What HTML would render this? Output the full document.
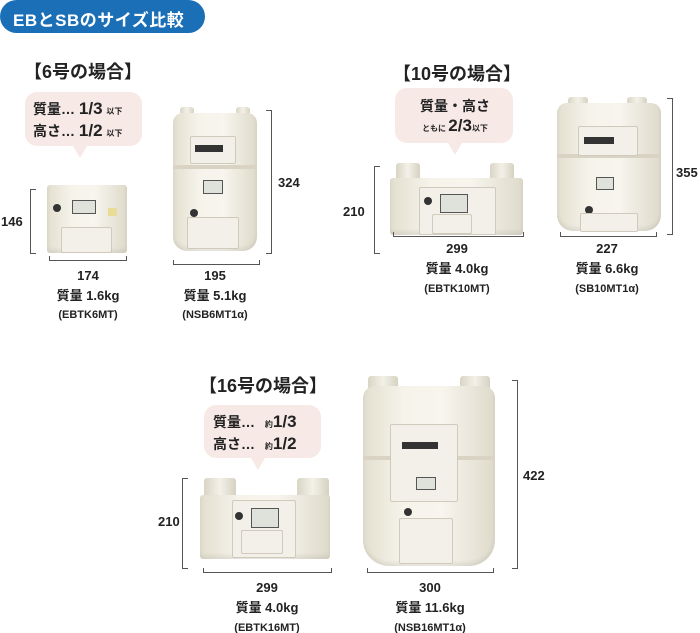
<!DOCTYPE html>
<html><head><meta charset="utf-8"><style>
body{margin:0;background:#fff}
#c{position:relative;width:700px;height:633px;overflow:hidden;font-family:"Liberation Sans","Noto Sans CJK JP",sans-serif;color:#222}
.a{position:absolute}
.t{position:absolute;white-space:nowrap;font-weight:bold}
.ctr{transform:translateX(-50%);text-align:center}
.bub{position:absolute;background:#f7e9e6;border-radius:12px}
.tail{position:absolute;width:0;height:0;border-left:7px solid transparent;border-right:7px solid transparent;border-top:12px solid #f7e9e6}
.vb{position:absolute;border:1.5px solid #555;width:5px}
.vl{border-right:none}.vr{border-left:none}
.hb{position:absolute;border:1.5px solid #555;border-top:none;height:4px}
.m{position:absolute;background:linear-gradient(90deg,#e3dfcf,#f5f3ea 30%,#f7f5ed 60%,#dedacb);border-radius:6px;box-shadow:inset 0 -3px 4px rgba(0,0,0,.08)}
.p{position:absolute;background:#f2f0e8;border:1px solid #cfcabb;border-radius:2px}
.d{position:absolute;background:#dfe2da;border:1.5px solid #555}
.k{position:absolute;background:#333;border-radius:50%}
.pipe{position:absolute;background:linear-gradient(90deg,#d9d5c5,#f3f1e8,#d6d2c2);border-radius:3px}
.n{font-size:13px}
.s{font-size:11px}
</style></head><body><div id="c">
<div class="a" style="left:0;top:0;width:205px;height:33px;background:#1b6fb7;border-radius:17px"></div>
<div class="t" style="left:13px;top:6px;font-size:17px;color:#fff;letter-spacing:0.5px">EBとSBのサイズ比較</div>

<!-- 6号 -->
<div class="t" style="left:24px;top:58px;font-size:18px">【6号の場合】</div>
<div class="bub" style="left:25px;top:92px;width:117px;height:54px"></div>
<div class="tail" style="left:73px;top:146px"></div>
<div class="t" style="left:33px;top:99px;font-size:14px">質量… <span style="font-size:17px">1/3</span> <span style="font-size:8px">以下</span></div>
<div class="t" style="left:33px;top:121px;font-size:14px">高さ… <span style="font-size:17px">1/2</span> <span style="font-size:8px">以下</span></div>

<div class="m" style="left:47px;top:185px;width:80px;height:68px;border-radius:3px"></div>
<div class="p" style="left:61px;top:227px;width:49px;height:24px"></div>
<div class="d" style="left:72px;top:200px;width:22px;height:12px"></div>
<div class="k" style="left:53px;top:204px;width:8px;height:8px"></div>
<div class="a" style="left:108px;top:208px;width:9px;height:8px;background:#e9dc98"></div>
<div class="vb vl" style="left:30px;top:189px;height:63px"></div>
<div class="t n" style="left:1px;top:214px">146</div>
<div class="hb" style="left:49px;top:256px;width:76px"></div>
<div class="t n ctr" style="left:88px;top:268px">174</div>
<div class="t n ctr" style="left:88px;top:285px">質量 1.6kg</div>
<div class="t s ctr" style="left:88px;top:309px">(EBTK6MT)</div>

<div class="pipe" style="left:180px;top:107px;width:14px;height:8px"></div>
<div class="pipe" style="left:236px;top:107px;width:14px;height:8px"></div>
<div class="m" style="left:173px;top:113px;width:84px;height:138px;border-radius:10px 10px 14px 14px"></div>
<div class="a" style="left:173px;top:165px;width:84px;height:4px;background:#d8d3c2"></div>
<div class="p" style="left:190px;top:136px;width:44px;height:26px"></div>
<div class="a" style="left:195px;top:145px;width:28px;height:7px;background:#333"></div>
<div class="d" style="left:203px;top:180px;width:18px;height:12px"></div>
<div class="k" style="left:190px;top:209px;width:8px;height:8px"></div>
<div class="p" style="left:187px;top:217px;width:50px;height:30px"></div>
<div class="vb vr" style="left:266px;top:110px;height:142px"></div>
<div class="t n" style="left:278px;top:175px">324</div>
<div class="hb" style="left:173px;top:260px;width:85px"></div>
<div class="t n ctr" style="left:215px;top:268px">195</div>
<div class="t n ctr" style="left:215px;top:285px">質量 5.1kg</div>
<div class="t s ctr" style="left:215px;top:309px">(NSB6MT1α)</div>

<!-- 10号 -->
<div class="t" style="left:393px;top:60px;font-size:18px">【10号の場合】</div>
<div class="bub" style="left:395px;top:88px;width:118px;height:55px"></div>
<div class="tail" style="left:448px;top:143px"></div>
<div class="t ctr" style="left:455px;top:96px;font-size:14px">質量・高さ</div>
<div class="t ctr" style="left:455px;top:116px;font-size:8px">ともに <span style="font-size:17px">2/3</span>以下</div>

<div class="pipe" style="left:396px;top:163px;width:24px;height:18px"></div>
<div class="pipe" style="left:490px;top:163px;width:24px;height:18px"></div>
<div class="m" style="left:390px;top:178px;width:133px;height:57px;border-radius:3px"></div>
<div class="p" style="left:419px;top:187px;width:75px;height:46px"></div>
<div class="d" style="left:440px;top:194px;width:26px;height:17px"></div>
<div class="k" style="left:424px;top:197px;width:8px;height:8px"></div>
<div class="p" style="left:432px;top:214px;width:38px;height:18px"></div>
<div class="vb vl" style="left:374px;top:166px;height:86px"></div>
<div class="t n" style="left:343px;top:204px">210</div>
<div class="hb" style="left:393px;top:232px;width:129px"></div>
<div class="t n ctr" style="left:457px;top:241px">299</div>
<div class="t n ctr" style="left:457px;top:258px">質量 4.0kg</div>
<div class="t s ctr" style="left:457px;top:283px">(EBTK10MT)</div>

<div class="pipe" style="left:568px;top:97px;width:20px;height:8px"></div>
<div class="pipe" style="left:627px;top:97px;width:20px;height:8px"></div>
<div class="m" style="left:557px;top:103px;width:104px;height:128px;border-radius:10px 10px 16px 16px"></div>
<div class="a" style="left:557px;top:154px;width:104px;height:4px;background:#d8d3c2"></div>
<div class="p" style="left:578px;top:126px;width:58px;height:28px"></div>
<div class="a" style="left:584px;top:137px;width:30px;height:7px;background:#333"></div>
<div class="d" style="left:596px;top:177px;width:16px;height:11px"></div>
<div class="k" style="left:585px;top:206px;width:8px;height:8px"></div>
<div class="p" style="left:580px;top:213px;width:56px;height:17px"></div>
<div class="vb vr" style="left:667px;top:98px;height:135px"></div>
<div class="t n" style="left:676px;top:165px">355</div>
<div class="hb" style="left:560px;top:232px;width:95px"></div>
<div class="t n ctr" style="left:607px;top:241px">227</div>
<div class="t n ctr" style="left:607px;top:258px">質量 6.6kg</div>
<div class="t s ctr" style="left:607px;top:283px">(SB10MT1α)</div>

<!-- 16号 -->
<div class="t" style="left:199px;top:372px;font-size:18px">【16号の場合】</div>
<div class="bub" style="left:204px;top:405px;width:117px;height:53px"></div>
<div class="tail" style="left:251px;top:458px"></div>
<div class="t" style="left:213px;top:412px;font-size:14px">質量… <span style="font-size:8px;margin-left:6px">約</span><span style="font-size:17px">1/3</span></div>
<div class="t" style="left:213px;top:434px;font-size:14px">高さ… <span style="font-size:8px;margin-left:6px">約</span><span style="font-size:17px">1/2</span></div>

<div class="pipe" style="left:204px;top:478px;width:32px;height:22px"></div>
<div class="pipe" style="left:297px;top:478px;width:32px;height:22px"></div>
<div class="m" style="left:200px;top:495px;width:130px;height:64px;border-radius:3px"></div>
<div class="p" style="left:232px;top:500px;width:62px;height:56px"></div>
<div class="d" style="left:251px;top:508px;width:26px;height:18px"></div>
<div class="k" style="left:235px;top:512px;width:8px;height:8px"></div>
<div class="p" style="left:241px;top:530px;width:40px;height:22px"></div>
<div class="vb vl" style="left:182px;top:478px;height:89px"></div>
<div class="t n" style="left:158px;top:514px">210</div>
<div class="hb" style="left:203px;top:568px;width:127px"></div>
<div class="t n ctr" style="left:267px;top:580px">299</div>
<div class="t n ctr" style="left:267px;top:597px">質量 4.0kg</div>
<div class="t s ctr" style="left:267px;top:622px">(EBTK16MT)</div>

<div class="pipe" style="left:368px;top:376px;width:30px;height:14px"></div>
<div class="pipe" style="left:460px;top:376px;width:30px;height:14px"></div>
<div class="m" style="left:363px;top:386px;width:132px;height:180px;border-radius:12px 12px 26px 26px"></div>
<div class="a" style="left:363px;top:456px;width:132px;height:4px;background:#d8d3c2"></div>
<div class="p" style="left:390px;top:424px;width:66px;height:76px"></div>
<div class="a" style="left:402px;top:442px;width:36px;height:7px;background:#333"></div>
<div class="d" style="left:416px;top:477px;width:18px;height:11px"></div>
<div class="k" style="left:404px;top:508px;width:8px;height:8px"></div>
<div class="p" style="left:399px;top:518px;width:52px;height:44px"></div>
<div class="vb vr" style="left:512px;top:380px;height:187px"></div>
<div class="t n" style="left:523px;top:468px">422</div>
<div class="hb" style="left:367px;top:568px;width:125px"></div>
<div class="t n ctr" style="left:430px;top:580px">300</div>
<div class="t n ctr" style="left:430px;top:597px">質量 11.6kg</div>
<div class="t s ctr" style="left:430px;top:622px">(NSB16MT1α)</div>
</div></body></html>
